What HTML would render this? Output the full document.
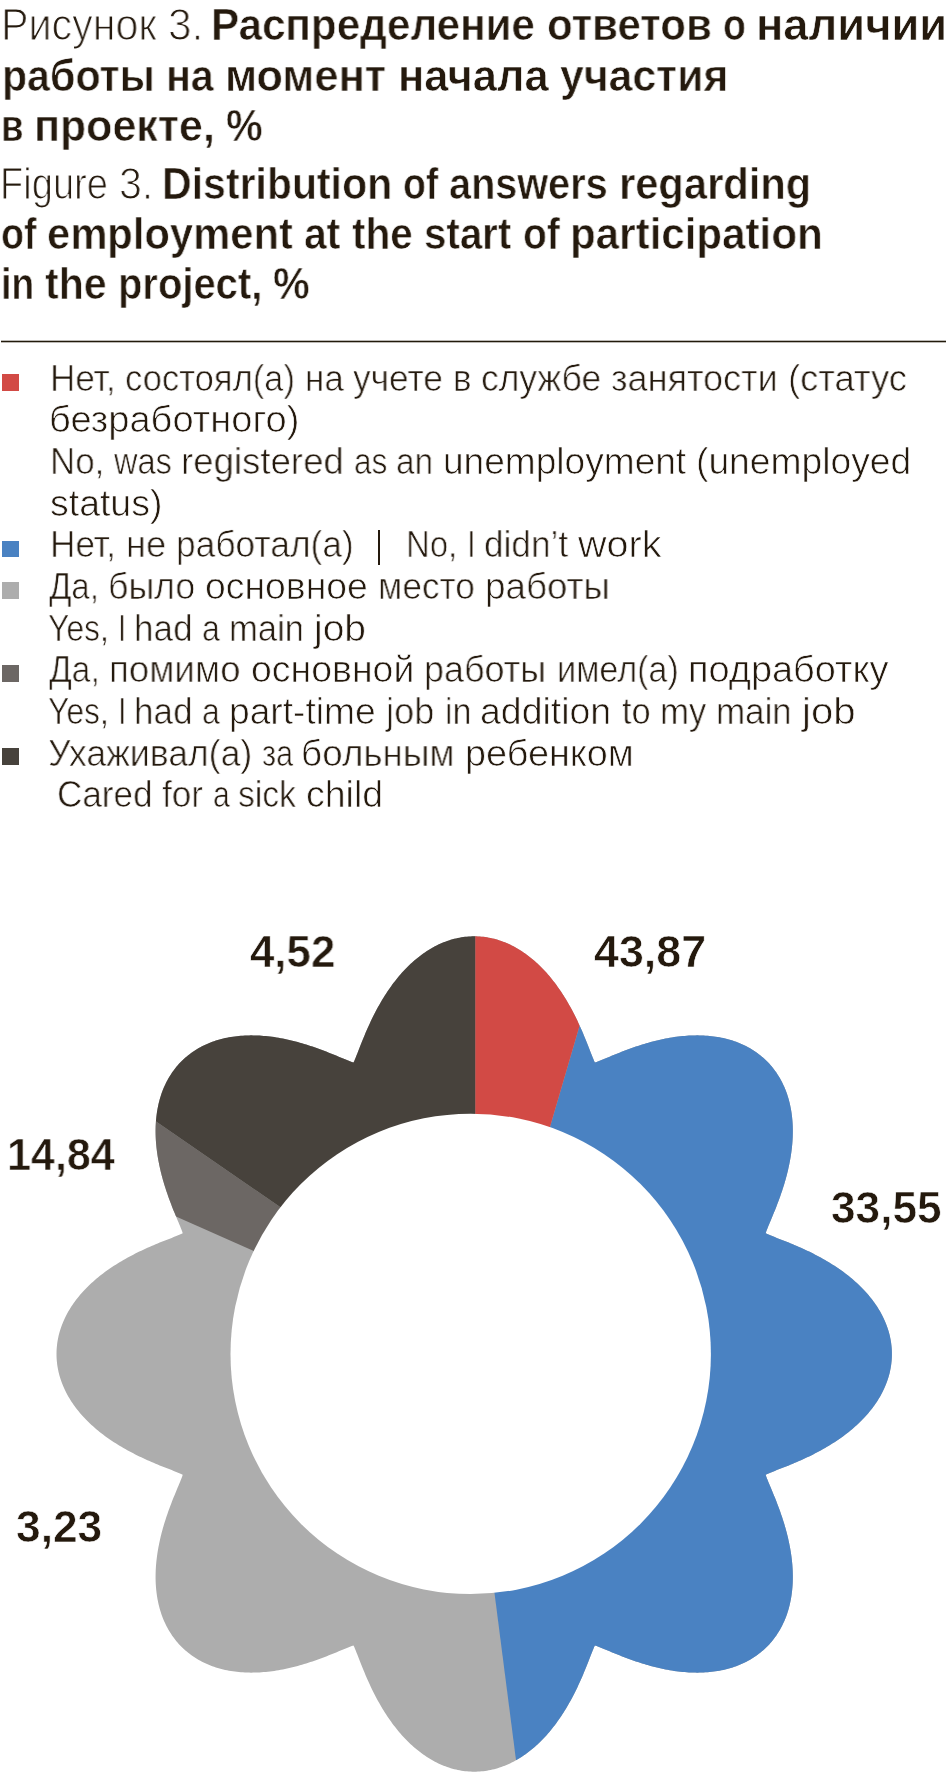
<!DOCTYPE html>
<html><head><meta charset="utf-8"><style>
html,body{margin:0;padding:0;background:#fff;}
body{width:946px;height:1778px;position:relative;overflow:hidden;font-family:"Liberation Sans",sans-serif;}
.t{position:absolute;white-space:nowrap;transform-origin:0 0;color:#24190d;will-change:transform;}
.rule{position:absolute;left:1px;top:340.7px;width:945px;height:1.5px;background:#221a0b;}
</style></head><body>
<svg width="946" height="1778" viewBox="0 0 946 1778" style="position:absolute;left:0;top:0">
<defs><clipPath id="fl"><path d="M474.20,936.30 L476.02,936.32 L477.84,936.38 L479.67,936.49 L481.49,936.64 L483.30,936.83 L485.12,937.06 L486.93,937.33 L488.74,937.65 L490.54,938.00 L492.35,938.40 L494.14,938.84 L495.93,939.32 L497.72,939.84 L499.50,940.41 L501.27,941.01 L503.03,941.65 L504.79,942.34 L506.54,943.06 L508.28,943.82 L510.02,944.62 L511.74,945.46 L513.45,946.34 L515.16,947.26 L516.85,948.21 L518.53,949.20 L520.20,950.23 L521.86,951.29 L523.51,952.40 L525.15,953.53 L526.77,954.70 L528.38,955.91 L529.97,957.15 L531.56,958.42 L533.12,959.72 L534.68,961.06 L536.22,962.43 L537.74,963.83 L539.25,965.27 L540.75,966.73 L542.22,968.22 L543.69,969.74 L545.13,971.29 L546.56,972.87 L547.97,974.47 L549.37,976.10 L550.75,977.75 L552.11,979.43 L553.45,981.14 L554.78,982.87 L556.09,984.62 L557.38,986.39 L558.66,988.18 L559.91,989.99 L561.15,991.83 L562.37,993.68 L563.57,995.55 L564.76,997.44 L565.92,999.34 L567.07,1001.26 L568.20,1003.20 L569.31,1005.15 L570.40,1007.11 L571.48,1009.08 L572.54,1011.07 L573.57,1013.06 L574.60,1015.06 L575.60,1017.08 L576.59,1019.10 L577.56,1021.12 L578.51,1023.16 L579.45,1025.19 L580.37,1027.23 L581.28,1029.28 L582.17,1031.32 L583.04,1033.36 L583.90,1035.40 L584.75,1037.44 L585.58,1039.48 L586.40,1041.51 L587.20,1043.53 L588.00,1045.54 L588.78,1047.54 L589.55,1049.53 L590.32,1051.50 L591.08,1053.45 L591.83,1055.37 L592.59,1057.26 L593.34,1059.11 L594.11,1060.89 L594.94,1062.52 L596.65,1061.99 L598.44,1061.32 L600.26,1060.59 L602.10,1059.84 L603.98,1059.06 L605.87,1058.27 L607.78,1057.47 L609.70,1056.67 L611.65,1055.86 L613.60,1055.05 L615.58,1054.24 L617.56,1053.44 L619.56,1052.64 L621.57,1051.85 L623.59,1051.06 L625.63,1050.29 L627.67,1049.52 L629.72,1048.77 L631.78,1048.03 L633.85,1047.31 L635.93,1046.59 L638.02,1045.90 L640.12,1045.22 L642.22,1044.55 L644.32,1043.91 L646.43,1043.28 L648.55,1042.67 L650.67,1042.09 L652.80,1041.52 L654.93,1040.97 L657.06,1040.45 L659.19,1039.95 L661.33,1039.47 L663.46,1039.02 L665.60,1038.59 L667.73,1038.18 L669.87,1037.80 L672.00,1037.45 L674.14,1037.12 L676.27,1036.82 L678.39,1036.55 L680.52,1036.30 L682.64,1036.08 L684.75,1035.89 L686.86,1035.73 L688.96,1035.60 L691.06,1035.50 L693.15,1035.43 L695.23,1035.39 L697.30,1035.37 L699.37,1035.39 L701.42,1035.44 L703.47,1035.52 L705.50,1035.64 L707.53,1035.78 L709.54,1035.96 L711.54,1036.17 L713.52,1036.41 L715.49,1036.68 L717.45,1036.99 L719.40,1037.33 L721.32,1037.70 L723.23,1038.10 L725.13,1038.54 L727.01,1039.01 L728.87,1039.51 L730.71,1040.04 L732.54,1040.61 L734.34,1041.21 L736.13,1041.85 L737.89,1042.51 L739.64,1043.21 L741.36,1043.95 L743.06,1044.71 L744.74,1045.51 L746.40,1046.34 L748.03,1047.20 L749.64,1048.10 L751.22,1049.02 L752.78,1049.98 L754.32,1050.97 L755.83,1051.99 L757.31,1053.04 L758.77,1054.13 L760.20,1055.24 L761.61,1056.38 L762.98,1057.56 L764.33,1058.76 L765.65,1059.99 L766.94,1061.26 L768.21,1062.55 L769.44,1063.87 L770.64,1065.22 L771.82,1066.59 L772.96,1068.00 L774.07,1069.43 L775.16,1070.89 L776.21,1072.37 L777.23,1073.88 L778.22,1075.42 L779.18,1076.98 L780.10,1078.56 L781.00,1080.17 L781.86,1081.80 L782.69,1083.46 L783.49,1085.14 L784.25,1086.84 L784.99,1088.56 L785.69,1090.31 L786.35,1092.07 L786.99,1093.86 L787.59,1095.66 L788.16,1097.49 L788.69,1099.33 L789.19,1101.19 L789.66,1103.07 L790.10,1104.97 L790.50,1106.88 L790.87,1108.80 L791.21,1110.75 L791.52,1112.71 L791.79,1114.68 L792.03,1116.66 L792.24,1118.66 L792.42,1120.67 L792.56,1122.70 L792.68,1124.73 L792.76,1126.78 L792.81,1128.83 L792.83,1130.90 L792.81,1132.97 L792.77,1135.05 L792.70,1137.14 L792.60,1139.24 L792.47,1141.34 L792.31,1143.45 L792.12,1145.56 L791.90,1147.68 L791.65,1149.81 L791.38,1151.93 L791.08,1154.06 L790.75,1156.20 L790.40,1158.33 L790.02,1160.47 L789.61,1162.60 L789.18,1164.74 L788.73,1166.87 L788.25,1169.01 L787.75,1171.14 L787.23,1173.27 L786.68,1175.40 L786.11,1177.53 L785.53,1179.65 L784.92,1181.77 L784.29,1183.88 L783.65,1185.98 L782.98,1188.08 L782.30,1190.18 L781.61,1192.27 L780.89,1194.35 L780.17,1196.42 L779.43,1198.48 L778.68,1200.53 L777.91,1202.57 L777.14,1204.61 L776.35,1206.63 L775.56,1208.64 L774.76,1210.64 L773.96,1212.62 L773.15,1214.60 L772.34,1216.55 L771.53,1218.50 L770.73,1220.42 L769.93,1222.33 L769.14,1224.22 L768.36,1226.10 L767.61,1227.94 L766.88,1229.76 L766.21,1231.55 L765.68,1233.26 L767.31,1234.09 L769.09,1234.86 L770.94,1235.61 L772.83,1236.37 L774.75,1237.12 L776.70,1237.88 L778.67,1238.65 L780.66,1239.42 L782.66,1240.20 L784.67,1241.00 L786.69,1241.80 L788.72,1242.62 L790.76,1243.45 L792.80,1244.30 L794.84,1245.16 L796.88,1246.03 L798.92,1246.92 L800.97,1247.83 L803.01,1248.75 L805.04,1249.69 L807.08,1250.64 L809.10,1251.61 L811.12,1252.60 L813.14,1253.60 L815.14,1254.63 L817.13,1255.66 L819.12,1256.72 L821.09,1257.80 L823.05,1258.89 L825.00,1260.00 L826.94,1261.13 L828.86,1262.28 L830.76,1263.44 L832.65,1264.63 L834.52,1265.83 L836.37,1267.05 L838.21,1268.29 L840.02,1269.54 L841.81,1270.82 L843.58,1272.11 L845.33,1273.42 L847.06,1274.75 L848.77,1276.09 L850.45,1277.45 L852.10,1278.83 L853.73,1280.23 L855.33,1281.64 L856.91,1283.07 L858.46,1284.51 L859.98,1285.98 L861.47,1287.45 L862.93,1288.95 L864.37,1290.46 L865.77,1291.98 L867.14,1293.52 L868.48,1295.08 L869.78,1296.64 L871.05,1298.23 L872.29,1299.82 L873.50,1301.43 L874.67,1303.05 L875.80,1304.69 L876.91,1306.34 L877.97,1308.00 L879.00,1309.67 L879.99,1311.35 L880.94,1313.04 L881.86,1314.75 L882.74,1316.46 L883.58,1318.18 L884.38,1319.92 L885.14,1321.66 L885.86,1323.41 L886.55,1325.17 L887.19,1326.93 L887.79,1328.70 L888.36,1330.48 L888.88,1332.27 L889.36,1334.06 L889.80,1335.85 L890.20,1337.66 L890.55,1339.46 L890.87,1341.27 L891.14,1343.08 L891.37,1344.90 L891.56,1346.71 L891.71,1348.53 L891.82,1350.36 L891.88,1352.18 L891.90,1354.00 L891.88,1355.82 L891.82,1357.64 L891.71,1359.47 L891.56,1361.29 L891.37,1363.10 L891.14,1364.92 L890.87,1366.73 L890.55,1368.54 L890.20,1370.34 L889.80,1372.15 L889.36,1373.94 L888.88,1375.73 L888.36,1377.52 L887.79,1379.30 L887.19,1381.07 L886.55,1382.83 L885.86,1384.59 L885.14,1386.34 L884.38,1388.08 L883.58,1389.82 L882.74,1391.54 L881.86,1393.25 L880.94,1394.96 L879.99,1396.65 L879.00,1398.33 L877.97,1400.00 L876.91,1401.66 L875.80,1403.31 L874.67,1404.95 L873.50,1406.57 L872.29,1408.18 L871.05,1409.77 L869.78,1411.36 L868.48,1412.92 L867.14,1414.48 L865.77,1416.02 L864.37,1417.54 L862.93,1419.05 L861.47,1420.55 L859.98,1422.02 L858.46,1423.49 L856.91,1424.93 L855.33,1426.36 L853.73,1427.77 L852.10,1429.17 L850.45,1430.55 L848.77,1431.91 L847.06,1433.25 L845.33,1434.58 L843.58,1435.89 L841.81,1437.18 L840.02,1438.46 L838.21,1439.71 L836.37,1440.95 L834.52,1442.17 L832.65,1443.37 L830.76,1444.56 L828.86,1445.72 L826.94,1446.87 L825.00,1448.00 L823.05,1449.11 L821.09,1450.20 L819.12,1451.28 L817.13,1452.34 L815.14,1453.37 L813.14,1454.40 L811.12,1455.40 L809.10,1456.39 L807.08,1457.36 L805.04,1458.31 L803.01,1459.25 L800.97,1460.17 L798.92,1461.08 L796.88,1461.97 L794.84,1462.84 L792.80,1463.70 L790.76,1464.55 L788.72,1465.38 L786.69,1466.20 L784.67,1467.00 L782.66,1467.80 L780.66,1468.58 L778.67,1469.35 L776.70,1470.12 L774.75,1470.88 L772.83,1471.63 L770.94,1472.39 L769.09,1473.14 L767.31,1473.91 L765.68,1474.74 L766.21,1476.45 L766.88,1478.24 L767.61,1480.06 L768.36,1481.90 L769.14,1483.78 L769.93,1485.67 L770.73,1487.58 L771.53,1489.50 L772.34,1491.45 L773.15,1493.40 L773.96,1495.38 L774.76,1497.36 L775.56,1499.36 L776.35,1501.37 L777.14,1503.39 L777.91,1505.43 L778.68,1507.47 L779.43,1509.52 L780.17,1511.58 L780.89,1513.65 L781.61,1515.73 L782.30,1517.82 L782.98,1519.92 L783.65,1522.02 L784.29,1524.12 L784.92,1526.23 L785.53,1528.35 L786.11,1530.47 L786.68,1532.60 L787.23,1534.73 L787.75,1536.86 L788.25,1538.99 L788.73,1541.13 L789.18,1543.26 L789.61,1545.40 L790.02,1547.53 L790.40,1549.67 L790.75,1551.80 L791.08,1553.94 L791.38,1556.07 L791.65,1558.19 L791.90,1560.32 L792.12,1562.44 L792.31,1564.55 L792.47,1566.66 L792.60,1568.76 L792.70,1570.86 L792.77,1572.95 L792.81,1575.03 L792.83,1577.10 L792.81,1579.17 L792.76,1581.22 L792.68,1583.27 L792.56,1585.30 L792.42,1587.33 L792.24,1589.34 L792.03,1591.34 L791.79,1593.32 L791.52,1595.29 L791.21,1597.25 L790.87,1599.20 L790.50,1601.12 L790.10,1603.03 L789.66,1604.93 L789.19,1606.81 L788.69,1608.67 L788.16,1610.51 L787.59,1612.34 L786.99,1614.14 L786.35,1615.93 L785.69,1617.69 L784.99,1619.44 L784.25,1621.16 L783.49,1622.86 L782.69,1624.54 L781.86,1626.20 L781.00,1627.83 L780.10,1629.44 L779.18,1631.02 L778.22,1632.58 L777.23,1634.12 L776.21,1635.63 L775.16,1637.11 L774.07,1638.57 L772.96,1640.00 L771.82,1641.41 L770.64,1642.78 L769.44,1644.13 L768.21,1645.45 L766.94,1646.74 L765.65,1648.01 L764.33,1649.24 L762.98,1650.44 L761.61,1651.62 L760.20,1652.76 L758.77,1653.87 L757.31,1654.96 L755.83,1656.01 L754.32,1657.03 L752.78,1658.02 L751.22,1658.98 L749.64,1659.90 L748.03,1660.80 L746.40,1661.66 L744.74,1662.49 L743.06,1663.29 L741.36,1664.05 L739.64,1664.79 L737.89,1665.49 L736.13,1666.15 L734.34,1666.79 L732.54,1667.39 L730.71,1667.96 L728.87,1668.49 L727.01,1668.99 L725.13,1669.46 L723.23,1669.90 L721.32,1670.30 L719.40,1670.67 L717.45,1671.01 L715.49,1671.32 L713.52,1671.59 L711.54,1671.83 L709.54,1672.04 L707.53,1672.22 L705.50,1672.36 L703.47,1672.48 L701.42,1672.56 L699.37,1672.61 L697.30,1672.63 L695.23,1672.61 L693.15,1672.57 L691.06,1672.50 L688.96,1672.40 L686.86,1672.27 L684.75,1672.11 L682.64,1671.92 L680.52,1671.70 L678.39,1671.45 L676.27,1671.18 L674.14,1670.88 L672.00,1670.55 L669.87,1670.20 L667.73,1669.82 L665.60,1669.41 L663.46,1668.98 L661.33,1668.53 L659.19,1668.05 L657.06,1667.55 L654.93,1667.03 L652.80,1666.48 L650.67,1665.91 L648.55,1665.33 L646.43,1664.72 L644.32,1664.09 L642.22,1663.45 L640.12,1662.78 L638.02,1662.10 L635.93,1661.41 L633.85,1660.69 L631.78,1659.97 L629.72,1659.23 L627.67,1658.48 L625.63,1657.71 L623.59,1656.94 L621.57,1656.15 L619.56,1655.36 L617.56,1654.56 L615.58,1653.76 L613.60,1652.95 L611.65,1652.14 L609.70,1651.33 L607.78,1650.53 L605.87,1649.73 L603.98,1648.94 L602.10,1648.16 L600.26,1647.41 L598.44,1646.68 L596.65,1646.01 L594.94,1645.48 L594.11,1647.11 L593.34,1648.89 L592.59,1650.74 L591.83,1652.63 L591.08,1654.55 L590.32,1656.50 L589.55,1658.47 L588.78,1660.46 L588.00,1662.46 L587.20,1664.47 L586.40,1666.49 L585.58,1668.52 L584.75,1670.56 L583.90,1672.60 L583.04,1674.64 L582.17,1676.68 L581.28,1678.72 L580.37,1680.77 L579.45,1682.81 L578.51,1684.84 L577.56,1686.88 L576.59,1688.90 L575.60,1690.92 L574.60,1692.94 L573.57,1694.94 L572.54,1696.93 L571.48,1698.92 L570.40,1700.89 L569.31,1702.85 L568.20,1704.80 L567.07,1706.74 L565.92,1708.66 L564.76,1710.56 L563.57,1712.45 L562.37,1714.32 L561.15,1716.17 L559.91,1718.01 L558.66,1719.82 L557.38,1721.61 L556.09,1723.38 L554.78,1725.13 L553.45,1726.86 L552.11,1728.57 L550.75,1730.25 L549.37,1731.90 L547.97,1733.53 L546.56,1735.13 L545.13,1736.71 L543.69,1738.26 L542.22,1739.78 L540.75,1741.27 L539.25,1742.73 L537.74,1744.17 L536.22,1745.57 L534.68,1746.94 L533.12,1748.28 L531.56,1749.58 L529.97,1750.85 L528.38,1752.09 L526.77,1753.30 L525.15,1754.47 L523.51,1755.60 L521.86,1756.71 L520.20,1757.77 L518.53,1758.80 L516.85,1759.79 L515.16,1760.74 L513.45,1761.66 L511.74,1762.54 L510.02,1763.38 L508.28,1764.18 L506.54,1764.94 L504.79,1765.66 L503.03,1766.35 L501.27,1766.99 L499.50,1767.59 L497.72,1768.16 L495.93,1768.68 L494.14,1769.16 L492.35,1769.60 L490.54,1770.00 L488.74,1770.35 L486.93,1770.67 L485.12,1770.94 L483.30,1771.17 L481.49,1771.36 L479.67,1771.51 L477.84,1771.62 L476.02,1771.68 L474.20,1771.70 L472.38,1771.68 L470.56,1771.62 L468.73,1771.51 L466.91,1771.36 L465.10,1771.17 L463.28,1770.94 L461.47,1770.67 L459.66,1770.35 L457.86,1770.00 L456.05,1769.60 L454.26,1769.16 L452.47,1768.68 L450.68,1768.16 L448.90,1767.59 L447.13,1766.99 L445.37,1766.35 L443.61,1765.66 L441.86,1764.94 L440.12,1764.18 L438.38,1763.38 L436.66,1762.54 L434.95,1761.66 L433.24,1760.74 L431.55,1759.79 L429.87,1758.80 L428.20,1757.77 L426.54,1756.71 L424.89,1755.60 L423.25,1754.47 L421.63,1753.30 L420.02,1752.09 L418.43,1750.85 L416.84,1749.58 L415.28,1748.28 L413.72,1746.94 L412.18,1745.57 L410.66,1744.17 L409.15,1742.73 L407.65,1741.27 L406.18,1739.78 L404.71,1738.26 L403.27,1736.71 L401.84,1735.13 L400.43,1733.53 L399.03,1731.90 L397.65,1730.25 L396.29,1728.57 L394.95,1726.86 L393.62,1725.13 L392.31,1723.38 L391.02,1721.61 L389.74,1719.82 L388.49,1718.01 L387.25,1716.17 L386.03,1714.32 L384.83,1712.45 L383.64,1710.56 L382.48,1708.66 L381.33,1706.74 L380.20,1704.80 L379.09,1702.85 L378.00,1700.89 L376.92,1698.92 L375.86,1696.93 L374.83,1694.94 L373.80,1692.94 L372.80,1690.92 L371.81,1688.90 L370.84,1686.88 L369.89,1684.84 L368.95,1682.81 L368.03,1680.77 L367.12,1678.72 L366.23,1676.68 L365.36,1674.64 L364.50,1672.60 L363.65,1670.56 L362.82,1668.52 L362.00,1666.49 L361.20,1664.47 L360.40,1662.46 L359.62,1660.46 L358.85,1658.47 L358.08,1656.50 L357.32,1654.55 L356.57,1652.63 L355.81,1650.74 L355.06,1648.89 L354.29,1647.11 L353.46,1645.48 L351.75,1646.01 L349.96,1646.68 L348.14,1647.41 L346.30,1648.16 L344.42,1648.94 L342.53,1649.73 L340.62,1650.53 L338.70,1651.33 L336.75,1652.14 L334.80,1652.95 L332.82,1653.76 L330.84,1654.56 L328.84,1655.36 L326.83,1656.15 L324.81,1656.94 L322.77,1657.71 L320.73,1658.48 L318.68,1659.23 L316.62,1659.97 L314.55,1660.69 L312.47,1661.41 L310.38,1662.10 L308.28,1662.78 L306.18,1663.45 L304.08,1664.09 L301.97,1664.72 L299.85,1665.33 L297.73,1665.91 L295.60,1666.48 L293.47,1667.03 L291.34,1667.55 L289.21,1668.05 L287.07,1668.53 L284.94,1668.98 L282.80,1669.41 L280.67,1669.82 L278.53,1670.20 L276.40,1670.55 L274.26,1670.88 L272.13,1671.18 L270.01,1671.45 L267.88,1671.70 L265.76,1671.92 L263.65,1672.11 L261.54,1672.27 L259.44,1672.40 L257.34,1672.50 L255.25,1672.57 L253.17,1672.61 L251.10,1672.63 L249.03,1672.61 L246.98,1672.56 L244.93,1672.48 L242.90,1672.36 L240.87,1672.22 L238.86,1672.04 L236.86,1671.83 L234.88,1671.59 L232.91,1671.32 L230.95,1671.01 L229.00,1670.67 L227.08,1670.30 L225.17,1669.90 L223.27,1669.46 L221.39,1668.99 L219.53,1668.49 L217.69,1667.96 L215.86,1667.39 L214.06,1666.79 L212.27,1666.15 L210.51,1665.49 L208.76,1664.79 L207.04,1664.05 L205.34,1663.29 L203.66,1662.49 L202.00,1661.66 L200.37,1660.80 L198.76,1659.90 L197.18,1658.98 L195.62,1658.02 L194.08,1657.03 L192.57,1656.01 L191.09,1654.96 L189.63,1653.87 L188.20,1652.76 L186.79,1651.62 L185.42,1650.44 L184.07,1649.24 L182.75,1648.01 L181.46,1646.74 L180.19,1645.45 L178.96,1644.13 L177.76,1642.78 L176.58,1641.41 L175.44,1640.00 L174.33,1638.57 L173.24,1637.11 L172.19,1635.63 L171.17,1634.12 L170.18,1632.58 L169.22,1631.02 L168.30,1629.44 L167.40,1627.83 L166.54,1626.20 L165.71,1624.54 L164.91,1622.86 L164.15,1621.16 L163.41,1619.44 L162.71,1617.69 L162.05,1615.93 L161.41,1614.14 L160.81,1612.34 L160.24,1610.51 L159.71,1608.67 L159.21,1606.81 L158.74,1604.93 L158.30,1603.03 L157.90,1601.12 L157.53,1599.20 L157.19,1597.25 L156.88,1595.29 L156.61,1593.32 L156.37,1591.34 L156.16,1589.34 L155.98,1587.33 L155.84,1585.30 L155.72,1583.27 L155.64,1581.22 L155.59,1579.17 L155.57,1577.10 L155.59,1575.03 L155.63,1572.95 L155.70,1570.86 L155.80,1568.76 L155.93,1566.66 L156.09,1564.55 L156.28,1562.44 L156.50,1560.32 L156.75,1558.19 L157.02,1556.07 L157.32,1553.94 L157.65,1551.80 L158.00,1549.67 L158.38,1547.53 L158.79,1545.40 L159.22,1543.26 L159.67,1541.13 L160.15,1538.99 L160.65,1536.86 L161.17,1534.73 L161.72,1532.60 L162.29,1530.47 L162.87,1528.35 L163.48,1526.23 L164.11,1524.12 L164.75,1522.02 L165.42,1519.92 L166.10,1517.82 L166.79,1515.73 L167.51,1513.65 L168.23,1511.58 L168.97,1509.52 L169.72,1507.47 L170.49,1505.43 L171.26,1503.39 L172.05,1501.37 L172.84,1499.36 L173.64,1497.36 L174.44,1495.38 L175.25,1493.40 L176.06,1491.45 L176.87,1489.50 L177.67,1487.58 L178.47,1485.67 L179.26,1483.78 L180.04,1481.90 L180.79,1480.06 L181.52,1478.24 L182.19,1476.45 L182.72,1474.74 L181.09,1473.91 L179.31,1473.14 L177.46,1472.39 L175.57,1471.63 L173.65,1470.88 L171.70,1470.12 L169.73,1469.35 L167.74,1468.58 L165.74,1467.80 L163.73,1467.00 L161.71,1466.20 L159.68,1465.38 L157.64,1464.55 L155.60,1463.70 L153.56,1462.84 L151.52,1461.97 L149.48,1461.08 L147.43,1460.17 L145.39,1459.25 L143.36,1458.31 L141.32,1457.36 L139.30,1456.39 L137.28,1455.40 L135.26,1454.40 L133.26,1453.37 L131.27,1452.34 L129.28,1451.28 L127.31,1450.20 L125.35,1449.11 L123.40,1448.00 L121.46,1446.87 L119.54,1445.72 L117.64,1444.56 L115.75,1443.37 L113.88,1442.17 L112.03,1440.95 L110.19,1439.71 L108.38,1438.46 L106.59,1437.18 L104.82,1435.89 L103.07,1434.58 L101.34,1433.25 L99.63,1431.91 L97.95,1430.55 L96.30,1429.17 L94.67,1427.77 L93.07,1426.36 L91.49,1424.93 L89.94,1423.49 L88.42,1422.02 L86.93,1420.55 L85.47,1419.05 L84.03,1417.54 L82.63,1416.02 L81.26,1414.48 L79.92,1412.92 L78.62,1411.36 L77.35,1409.77 L76.11,1408.18 L74.90,1406.57 L73.73,1404.95 L72.60,1403.31 L71.49,1401.66 L70.43,1400.00 L69.40,1398.33 L68.41,1396.65 L67.46,1394.96 L66.54,1393.25 L65.66,1391.54 L64.82,1389.82 L64.02,1388.08 L63.26,1386.34 L62.54,1384.59 L61.85,1382.83 L61.21,1381.07 L60.61,1379.30 L60.04,1377.52 L59.52,1375.73 L59.04,1373.94 L58.60,1372.15 L58.20,1370.34 L57.85,1368.54 L57.53,1366.73 L57.26,1364.92 L57.03,1363.10 L56.84,1361.29 L56.69,1359.47 L56.58,1357.64 L56.52,1355.82 L56.50,1354.00 L56.52,1352.18 L56.58,1350.36 L56.69,1348.53 L56.84,1346.71 L57.03,1344.90 L57.26,1343.08 L57.53,1341.27 L57.85,1339.46 L58.20,1337.66 L58.60,1335.85 L59.04,1334.06 L59.52,1332.27 L60.04,1330.48 L60.61,1328.70 L61.21,1326.93 L61.85,1325.17 L62.54,1323.41 L63.26,1321.66 L64.02,1319.92 L64.82,1318.18 L65.66,1316.46 L66.54,1314.75 L67.46,1313.04 L68.41,1311.35 L69.40,1309.67 L70.43,1308.00 L71.49,1306.34 L72.60,1304.69 L73.73,1303.05 L74.90,1301.43 L76.11,1299.82 L77.35,1298.23 L78.62,1296.64 L79.92,1295.08 L81.26,1293.52 L82.63,1291.98 L84.03,1290.46 L85.47,1288.95 L86.93,1287.45 L88.42,1285.98 L89.94,1284.51 L91.49,1283.07 L93.07,1281.64 L94.67,1280.23 L96.30,1278.83 L97.95,1277.45 L99.63,1276.09 L101.34,1274.75 L103.07,1273.42 L104.82,1272.11 L106.59,1270.82 L108.38,1269.54 L110.19,1268.29 L112.03,1267.05 L113.88,1265.83 L115.75,1264.63 L117.64,1263.44 L119.54,1262.28 L121.46,1261.13 L123.40,1260.00 L125.35,1258.89 L127.31,1257.80 L129.28,1256.72 L131.27,1255.66 L133.26,1254.63 L135.26,1253.60 L137.28,1252.60 L139.30,1251.61 L141.32,1250.64 L143.36,1249.69 L145.39,1248.75 L147.43,1247.83 L149.48,1246.92 L151.52,1246.03 L153.56,1245.16 L155.60,1244.30 L157.64,1243.45 L159.68,1242.62 L161.71,1241.80 L163.73,1241.00 L165.74,1240.20 L167.74,1239.42 L169.73,1238.65 L171.70,1237.88 L173.65,1237.12 L175.57,1236.37 L177.46,1235.61 L179.31,1234.86 L181.09,1234.09 L182.72,1233.26 L182.19,1231.55 L181.52,1229.76 L180.79,1227.94 L180.04,1226.10 L179.26,1224.22 L178.47,1222.33 L177.67,1220.42 L176.87,1218.50 L176.06,1216.55 L175.25,1214.60 L174.44,1212.62 L173.64,1210.64 L172.84,1208.64 L172.05,1206.63 L171.26,1204.61 L170.49,1202.57 L169.72,1200.53 L168.97,1198.48 L168.23,1196.42 L167.51,1194.35 L166.79,1192.27 L166.10,1190.18 L165.42,1188.08 L164.75,1185.98 L164.11,1183.88 L163.48,1181.77 L162.87,1179.65 L162.29,1177.53 L161.72,1175.40 L161.17,1173.27 L160.65,1171.14 L160.15,1169.01 L159.67,1166.87 L159.22,1164.74 L158.79,1162.60 L158.38,1160.47 L158.00,1158.33 L157.65,1156.20 L157.32,1154.06 L157.02,1151.93 L156.75,1149.81 L156.50,1147.68 L156.28,1145.56 L156.09,1143.45 L155.93,1141.34 L155.80,1139.24 L155.70,1137.14 L155.63,1135.05 L155.59,1132.97 L155.57,1130.90 L155.59,1128.83 L155.64,1126.78 L155.72,1124.73 L155.84,1122.70 L155.98,1120.67 L156.16,1118.66 L156.37,1116.66 L156.61,1114.68 L156.88,1112.71 L157.19,1110.75 L157.53,1108.80 L157.90,1106.88 L158.30,1104.97 L158.74,1103.07 L159.21,1101.19 L159.71,1099.33 L160.24,1097.49 L160.81,1095.66 L161.41,1093.86 L162.05,1092.07 L162.71,1090.31 L163.41,1088.56 L164.15,1086.84 L164.91,1085.14 L165.71,1083.46 L166.54,1081.80 L167.40,1080.17 L168.30,1078.56 L169.22,1076.98 L170.18,1075.42 L171.17,1073.88 L172.19,1072.37 L173.24,1070.89 L174.33,1069.43 L175.44,1068.00 L176.58,1066.59 L177.76,1065.22 L178.96,1063.87 L180.19,1062.55 L181.46,1061.26 L182.75,1059.99 L184.07,1058.76 L185.42,1057.56 L186.79,1056.38 L188.20,1055.24 L189.63,1054.13 L191.09,1053.04 L192.57,1051.99 L194.08,1050.97 L195.62,1049.98 L197.18,1049.02 L198.76,1048.10 L200.37,1047.20 L202.00,1046.34 L203.66,1045.51 L205.34,1044.71 L207.04,1043.95 L208.76,1043.21 L210.51,1042.51 L212.27,1041.85 L214.06,1041.21 L215.86,1040.61 L217.69,1040.04 L219.53,1039.51 L221.39,1039.01 L223.27,1038.54 L225.17,1038.10 L227.08,1037.70 L229.00,1037.33 L230.95,1036.99 L232.91,1036.68 L234.88,1036.41 L236.86,1036.17 L238.86,1035.96 L240.87,1035.78 L242.90,1035.64 L244.93,1035.52 L246.98,1035.44 L249.03,1035.39 L251.10,1035.37 L253.17,1035.39 L255.25,1035.43 L257.34,1035.50 L259.44,1035.60 L261.54,1035.73 L263.65,1035.89 L265.76,1036.08 L267.88,1036.30 L270.01,1036.55 L272.13,1036.82 L274.26,1037.12 L276.40,1037.45 L278.53,1037.80 L280.67,1038.18 L282.80,1038.59 L284.94,1039.02 L287.07,1039.47 L289.21,1039.95 L291.34,1040.45 L293.47,1040.97 L295.60,1041.52 L297.73,1042.09 L299.85,1042.67 L301.97,1043.28 L304.08,1043.91 L306.18,1044.55 L308.28,1045.22 L310.38,1045.90 L312.47,1046.59 L314.55,1047.31 L316.62,1048.03 L318.68,1048.77 L320.73,1049.52 L322.77,1050.29 L324.81,1051.06 L326.83,1051.85 L328.84,1052.64 L330.84,1053.44 L332.82,1054.24 L334.80,1055.05 L336.75,1055.86 L338.70,1056.67 L340.62,1057.47 L342.53,1058.27 L344.42,1059.06 L346.30,1059.84 L348.14,1060.59 L349.96,1061.32 L351.75,1061.99 L353.46,1062.52 L354.29,1060.89 L355.06,1059.11 L355.81,1057.26 L356.57,1055.37 L357.32,1053.45 L358.08,1051.50 L358.85,1049.53 L359.62,1047.54 L360.40,1045.54 L361.20,1043.53 L362.00,1041.51 L362.82,1039.48 L363.65,1037.44 L364.50,1035.40 L365.36,1033.36 L366.23,1031.32 L367.12,1029.28 L368.03,1027.23 L368.95,1025.19 L369.89,1023.16 L370.84,1021.12 L371.81,1019.10 L372.80,1017.08 L373.80,1015.06 L374.83,1013.06 L375.86,1011.07 L376.92,1009.08 L378.00,1007.11 L379.09,1005.15 L380.20,1003.20 L381.33,1001.26 L382.48,999.34 L383.64,997.44 L384.83,995.55 L386.03,993.68 L387.25,991.83 L388.49,989.99 L389.74,988.18 L391.02,986.39 L392.31,984.62 L393.62,982.87 L394.95,981.14 L396.29,979.43 L397.65,977.75 L399.03,976.10 L400.43,974.47 L401.84,972.87 L403.27,971.29 L404.71,969.74 L406.18,968.22 L407.65,966.73 L409.15,965.27 L410.66,963.83 L412.18,962.43 L413.72,961.06 L415.28,959.72 L416.84,958.42 L418.43,957.15 L420.02,955.91 L421.63,954.70 L423.25,953.53 L424.89,952.40 L426.54,951.29 L428.20,950.23 L429.87,949.20 L431.55,948.21 L433.24,947.26 L434.95,946.34 L436.66,945.46 L438.38,944.62 L440.12,943.82 L441.86,943.06 L443.61,942.34 L445.37,941.65 L447.13,941.01 L448.90,940.41 L450.68,939.84 L452.47,939.32 L454.26,938.84 L456.05,938.40 L457.86,938.00 L459.66,937.65 L461.47,937.33 L463.28,937.06 L465.10,936.83 L466.91,936.64 L468.73,936.49 L470.56,936.38 L472.38,936.32Z"/></clipPath></defs>
<g clip-path="url(#fl)">
<rect x="0" y="880" width="946" height="898" fill="#adadad"/>
<path d="M622.16,880.00 L469.82,1401.24 L521.14,1800.00 L960.00,1800.00 L960.00,880.00 Z" fill="#4a82c2"/>
<path d="M475.20,880.00 L475.20,1382.85 L622.16,880.00 Z" fill="#d24a45"/>
<path d="M506.80,1363.45 L-20.00,999.93 L-20.00,1129.47 Z" fill="#6c6764"/>
<path d="M475.20,880.00 L475.20,1341.64 L-20.00,999.93 L-20.00,880.00 Z" fill="#47423c"/>
</g>
<rect x="1" y="340.7" width="945" height="1.6" fill="#221a0b"/>
<circle cx="470.7" cy="1353.9" r="240.2" fill="#fff"/>
</svg>
<div style="position:absolute;left:1.9px;top:374.30px;width:17.1px;height:16.9px;background:#d24a45"></div><div style="position:absolute;left:1.9px;top:540.50px;width:17.1px;height:16.9px;background:#4a82c2"></div><div style="position:absolute;left:1.9px;top:582.05px;width:17.1px;height:16.9px;background:#adadad"></div><div style="position:absolute;left:1.9px;top:665.15px;width:17.1px;height:16.9px;background:#6c6764"></div><div style="position:absolute;left:1.9px;top:748.25px;width:17.1px;height:16.9px;background:#47423c"></div>
<div class="t" style="left:1.24px;top:-0.58px;font-size:43.50px;line-height:52.20px;font-weight:400;transform:scaleX(0.9480);-webkit-text-stroke:1.20px #fff">Рисунок</div>
<div class="t" style="left:168.21px;top:-0.58px;font-size:43.50px;line-height:52.20px;font-weight:400;transform:scaleX(0.9723);-webkit-text-stroke:1.20px #fff">3.</div>
<div class="t" style="left:211.15px;top:-0.58px;font-size:43.50px;line-height:52.20px;font-weight:700;transform:scaleX(0.9692);-webkit-text-stroke:0.60px #fff">Распределение</div>
<div class="t" style="left:546.73px;top:-0.58px;font-size:43.50px;line-height:52.20px;font-weight:700;transform:scaleX(0.9659);-webkit-text-stroke:0.60px #fff">ответов</div>
<div class="t" style="left:723.33px;top:-0.58px;font-size:43.50px;line-height:52.20px;font-weight:700;transform:scaleX(0.8593);-webkit-text-stroke:0.60px #fff">о</div>
<div class="t" style="left:756.37px;top:-0.58px;font-size:43.50px;line-height:52.20px;font-weight:700;transform:scaleX(1.0414);-webkit-text-stroke:0.60px #fff">наличии</div>
<div class="t" style="left:1.70px;top:49.62px;font-size:43.50px;line-height:52.20px;font-weight:700;transform:scaleX(0.9453);-webkit-text-stroke:0.60px #fff">работы</div>
<div class="t" style="left:165.96px;top:49.62px;font-size:43.50px;line-height:52.20px;font-weight:700;transform:scaleX(0.9448);-webkit-text-stroke:0.60px #fff">на</div>
<div class="t" style="left:225.01px;top:49.62px;font-size:43.50px;line-height:52.20px;font-weight:700;transform:scaleX(0.9960);-webkit-text-stroke:0.60px #fff">момент</div>
<div class="t" style="left:397.90px;top:49.62px;font-size:43.50px;line-height:52.20px;font-weight:700;transform:scaleX(0.9991);-webkit-text-stroke:0.60px #fff">начала</div>
<div class="t" style="left:560.49px;top:49.62px;font-size:43.50px;line-height:52.20px;font-weight:700;transform:scaleX(0.9824);-webkit-text-stroke:0.60px #fff">участия</div>
<div class="t" style="left:1.06px;top:99.52px;font-size:43.50px;line-height:52.20px;font-weight:700;transform:scaleX(0.8435);-webkit-text-stroke:0.60px #fff">в</div>
<div class="t" style="left:33.72px;top:99.52px;font-size:43.50px;line-height:52.20px;font-weight:700;transform:scaleX(0.9875);-webkit-text-stroke:0.60px #fff">проекте,</div>
<div class="t" style="left:226.34px;top:99.52px;font-size:43.50px;line-height:52.20px;font-weight:700;transform:scaleX(0.9486);-webkit-text-stroke:0.60px #fff">%</div>
<div class="t" style="left:0.45px;top:158.42px;font-size:43.50px;line-height:52.20px;font-weight:400;transform:scaleX(0.8763);-webkit-text-stroke:1.20px #fff">Figure</div>
<div class="t" style="left:119.04px;top:158.42px;font-size:43.50px;line-height:52.20px;font-weight:400;transform:scaleX(0.9412);-webkit-text-stroke:1.20px #fff">3.</div>
<div class="t" style="left:161.70px;top:158.42px;font-size:43.50px;line-height:52.20px;font-weight:700;transform:scaleX(0.9431);-webkit-text-stroke:0.60px #fff">Distribution</div>
<div class="t" style="left:403.32px;top:158.42px;font-size:43.50px;line-height:52.20px;font-weight:700;transform:scaleX(0.8605);-webkit-text-stroke:0.60px #fff">of</div>
<div class="t" style="left:449.07px;top:158.42px;font-size:43.50px;line-height:52.20px;font-weight:700;transform:scaleX(0.9106);-webkit-text-stroke:0.60px #fff">answers</div>
<div class="t" style="left:618.57px;top:158.42px;font-size:43.50px;line-height:52.20px;font-weight:700;transform:scaleX(0.9580);-webkit-text-stroke:0.60px #fff">regarding</div>
<div class="t" style="left:1.13px;top:208.42px;font-size:43.50px;line-height:52.20px;font-weight:700;transform:scaleX(0.8641);-webkit-text-stroke:0.60px #fff">of</div>
<div class="t" style="left:47.03px;top:208.42px;font-size:43.50px;line-height:52.20px;font-weight:700;transform:scaleX(0.9594);-webkit-text-stroke:0.60px #fff">employment</div>
<div class="t" style="left:304.46px;top:208.42px;font-size:43.50px;line-height:52.20px;font-weight:700;transform:scaleX(0.9344);-webkit-text-stroke:0.60px #fff">at</div>
<div class="t" style="left:351.89px;top:208.42px;font-size:43.50px;line-height:52.20px;font-weight:700;transform:scaleX(0.9317);-webkit-text-stroke:0.60px #fff">the</div>
<div class="t" style="left:423.97px;top:208.42px;font-size:43.50px;line-height:52.20px;font-weight:700;transform:scaleX(0.9258);-webkit-text-stroke:0.60px #fff">start</div>
<div class="t" style="left:522.50px;top:208.42px;font-size:43.50px;line-height:52.20px;font-weight:700;transform:scaleX(0.8959);-webkit-text-stroke:0.60px #fff">of</div>
<div class="t" style="left:570.06px;top:208.42px;font-size:43.50px;line-height:52.20px;font-weight:700;transform:scaleX(0.9682);-webkit-text-stroke:0.60px #fff">participation</div>
<div class="t" style="left:1.00px;top:258.42px;font-size:43.50px;line-height:52.20px;font-weight:700;transform:scaleX(0.8609);-webkit-text-stroke:0.60px #fff">in</div>
<div class="t" style="left:44.68px;top:258.42px;font-size:43.50px;line-height:52.20px;font-weight:700;transform:scaleX(0.9461);-webkit-text-stroke:0.60px #fff">the</div>
<div class="t" style="left:117.85px;top:258.42px;font-size:43.50px;line-height:52.20px;font-weight:700;transform:scaleX(0.9186);-webkit-text-stroke:0.60px #fff">project,</div>
<div class="t" style="left:273.24px;top:258.42px;font-size:43.50px;line-height:52.20px;font-weight:700;transform:scaleX(0.9486);-webkit-text-stroke:0.60px #fff">%</div>
<div class="t" style="left:50.15px;top:357.17px;font-size:37.00px;line-height:44.40px;font-weight:400;transform:scaleX(0.9473);-webkit-text-stroke:0.70px #fff">Нет,</div>
<div class="t" style="left:125.46px;top:357.17px;font-size:37.00px;line-height:44.40px;font-weight:400;transform:scaleX(0.9339);-webkit-text-stroke:0.70px #fff">состоял(а)</div>
<div class="t" style="left:305.01px;top:357.17px;font-size:37.00px;line-height:44.40px;font-weight:400;transform:scaleX(0.9434);-webkit-text-stroke:0.70px #fff">на</div>
<div class="t" style="left:353.40px;top:357.17px;font-size:37.00px;line-height:44.40px;font-weight:400;transform:scaleX(0.9529);-webkit-text-stroke:0.70px #fff">учете</div>
<div class="t" style="left:453.01px;top:357.17px;font-size:37.00px;line-height:44.40px;font-weight:400;transform:scaleX(0.9430);-webkit-text-stroke:0.70px #fff">в</div>
<div class="t" style="left:481.24px;top:357.17px;font-size:37.00px;line-height:44.40px;font-weight:400;transform:scaleX(0.9569);-webkit-text-stroke:0.70px #fff">службе</div>
<div class="t" style="left:611.20px;top:357.17px;font-size:37.00px;line-height:44.40px;font-weight:400;transform:scaleX(0.9740);-webkit-text-stroke:0.70px #fff">занятости</div>
<div class="t" style="left:787.93px;top:357.17px;font-size:37.00px;line-height:44.40px;font-weight:400;transform:scaleX(0.9826);-webkit-text-stroke:0.70px #fff">(статус</div>
<div class="t" style="left:48.54px;top:397.67px;font-size:37.00px;line-height:44.40px;font-weight:400;transform:scaleX(1.0296);-webkit-text-stroke:0.70px #fff">безработного)</div>
<div class="t" style="left:50.16px;top:440.17px;font-size:37.00px;line-height:44.40px;font-weight:400;transform:scaleX(0.9447);-webkit-text-stroke:0.70px #fff">No,</div>
<div class="t" style="left:114.18px;top:440.17px;font-size:37.00px;line-height:44.40px;font-weight:400;transform:scaleX(0.8791);-webkit-text-stroke:0.70px #fff">was</div>
<div class="t" style="left:181.02px;top:440.17px;font-size:37.00px;line-height:44.40px;font-weight:400;transform:scaleX(0.9891);-webkit-text-stroke:0.70px #fff">registered</div>
<div class="t" style="left:354.04px;top:440.17px;font-size:37.00px;line-height:44.40px;font-weight:400;transform:scaleX(0.8546);-webkit-text-stroke:0.70px #fff">as</div>
<div class="t" style="left:396.29px;top:440.17px;font-size:37.00px;line-height:44.40px;font-weight:400;transform:scaleX(0.9033);-webkit-text-stroke:0.70px #fff">an</div>
<div class="t" style="left:442.69px;top:440.17px;font-size:37.00px;line-height:44.40px;font-weight:400;transform:scaleX(1.0020);-webkit-text-stroke:0.70px #fff">unemployment</div>
<div class="t" style="left:696.08px;top:440.17px;font-size:37.00px;line-height:44.40px;font-weight:400;transform:scaleX(1.0065);-webkit-text-stroke:0.70px #fff">(unemployed</div>
<div class="t" style="left:49.51px;top:482.07px;font-size:37.00px;line-height:44.40px;font-weight:400;transform:scaleX(1.0123);-webkit-text-stroke:0.70px #fff">status)</div>
<div class="t" style="left:50.14px;top:522.67px;font-size:37.00px;line-height:44.40px;font-weight:400;transform:scaleX(0.9504);-webkit-text-stroke:0.70px #fff">Нет,</div>
<div class="t" style="left:125.64px;top:522.67px;font-size:37.00px;line-height:44.40px;font-weight:400;transform:scaleX(0.9775);-webkit-text-stroke:0.70px #fff">не</div>
<div class="t" style="left:175.78px;top:522.67px;font-size:37.00px;line-height:44.40px;font-weight:400;transform:scaleX(0.9551);-webkit-text-stroke:0.70px #fff">работал(а)</div>
<div class="t" style="left:48.90px;top:564.57px;font-size:37.00px;line-height:44.40px;font-weight:400;transform:scaleX(0.8921);-webkit-text-stroke:0.70px #fff">Да,</div>
<div class="t" style="left:107.96px;top:564.57px;font-size:37.00px;line-height:44.40px;font-weight:400;transform:scaleX(0.9653);-webkit-text-stroke:0.70px #fff">было</div>
<div class="t" style="left:205.09px;top:564.57px;font-size:37.00px;line-height:44.40px;font-weight:400;transform:scaleX(1.0090);-webkit-text-stroke:0.70px #fff">основное</div>
<div class="t" style="left:378.29px;top:564.57px;font-size:37.00px;line-height:44.40px;font-weight:400;transform:scaleX(0.9540);-webkit-text-stroke:0.70px #fff">место</div>
<div class="t" style="left:485.01px;top:564.57px;font-size:37.00px;line-height:44.40px;font-weight:400;transform:scaleX(0.9946);-webkit-text-stroke:0.70px #fff">работы</div>
<div class="t" style="left:48.25px;top:606.67px;font-size:37.00px;line-height:44.40px;font-weight:400;transform:scaleX(0.8629);-webkit-text-stroke:0.70px #fff">Yes,</div>
<div class="t" style="left:118.49px;top:606.67px;font-size:37.00px;line-height:44.40px;font-weight:400;transform:scaleX(0.7873);-webkit-text-stroke:0.70px #fff">I</div>
<div class="t" style="left:134.05px;top:606.67px;font-size:37.00px;line-height:44.40px;font-weight:400;transform:scaleX(0.9480);-webkit-text-stroke:0.70px #fff">had</div>
<div class="t" style="left:202.38px;top:606.67px;font-size:37.00px;line-height:44.40px;font-weight:400;transform:scaleX(0.8691);-webkit-text-stroke:0.70px #fff">a</div>
<div class="t" style="left:229.18px;top:606.67px;font-size:37.00px;line-height:44.40px;font-weight:400;transform:scaleX(0.9350);-webkit-text-stroke:0.70px #fff">main</div>
<div class="t" style="left:313.90px;top:606.67px;font-size:37.00px;line-height:44.40px;font-weight:400;transform:scaleX(1.0543);-webkit-text-stroke:0.70px #fff">job</div>
<div class="t" style="left:48.90px;top:648.17px;font-size:37.00px;line-height:44.40px;font-weight:400;transform:scaleX(0.9084);-webkit-text-stroke:0.70px #fff">Да,</div>
<div class="t" style="left:109.02px;top:648.17px;font-size:37.00px;line-height:44.40px;font-weight:400;transform:scaleX(0.9901);-webkit-text-stroke:0.70px #fff">помимо</div>
<div class="t" style="left:250.58px;top:648.17px;font-size:37.00px;line-height:44.40px;font-weight:400;transform:scaleX(1.0119);-webkit-text-stroke:0.70px #fff">основной</div>
<div class="t" style="left:424.35px;top:648.17px;font-size:37.00px;line-height:44.40px;font-weight:400;transform:scaleX(0.9717);-webkit-text-stroke:0.70px #fff">работы</div>
<div class="t" style="left:556.56px;top:648.17px;font-size:37.00px;line-height:44.40px;font-weight:400;transform:scaleX(0.9202);-webkit-text-stroke:0.70px #fff">имел(а)</div>
<div class="t" style="left:687.65px;top:648.17px;font-size:37.00px;line-height:44.40px;font-weight:400;transform:scaleX(1.0250);-webkit-text-stroke:0.70px #fff">подработку</div>
<div class="t" style="left:48.28px;top:689.97px;font-size:37.00px;line-height:44.40px;font-weight:400;transform:scaleX(0.8615);-webkit-text-stroke:0.70px #fff">Yes,</div>
<div class="t" style="left:118.43px;top:689.97px;font-size:37.00px;line-height:44.40px;font-weight:400;transform:scaleX(0.8180);-webkit-text-stroke:0.70px #fff">I</div>
<div class="t" style="left:134.08px;top:689.97px;font-size:37.00px;line-height:44.40px;font-weight:400;transform:scaleX(0.9475);-webkit-text-stroke:0.70px #fff">had</div>
<div class="t" style="left:202.41px;top:689.97px;font-size:37.00px;line-height:44.40px;font-weight:400;transform:scaleX(0.8666);-webkit-text-stroke:0.70px #fff">a</div>
<div class="t" style="left:229.07px;top:689.97px;font-size:37.00px;line-height:44.40px;font-weight:400;transform:scaleX(1.0046);-webkit-text-stroke:0.70px #fff">part-time</div>
<div class="t" style="left:386.06px;top:689.97px;font-size:37.00px;line-height:44.40px;font-weight:400;transform:scaleX(0.9789);-webkit-text-stroke:0.70px #fff">job</div>
<div class="t" style="left:444.55px;top:689.97px;font-size:37.00px;line-height:44.40px;font-weight:400;transform:scaleX(0.9153);-webkit-text-stroke:0.70px #fff">in</div>
<div class="t" style="left:480.27px;top:689.97px;font-size:37.00px;line-height:44.40px;font-weight:400;transform:scaleX(1.0123);-webkit-text-stroke:0.70px #fff">addition</div>
<div class="t" style="left:621.88px;top:689.97px;font-size:37.00px;line-height:44.40px;font-weight:400;transform:scaleX(0.9304);-webkit-text-stroke:0.70px #fff">to</div>
<div class="t" style="left:660.20px;top:689.97px;font-size:37.00px;line-height:44.40px;font-weight:400;transform:scaleX(0.9388);-webkit-text-stroke:0.70px #fff">my</div>
<div class="t" style="left:716.19px;top:689.97px;font-size:37.00px;line-height:44.40px;font-weight:400;transform:scaleX(0.9433);-webkit-text-stroke:0.70px #fff">main</div>
<div class="t" style="left:801.66px;top:689.97px;font-size:37.00px;line-height:44.40px;font-weight:400;transform:scaleX(1.0844);-webkit-text-stroke:0.70px #fff">job</div>
<div class="t" style="left:48.32px;top:731.67px;font-size:37.00px;line-height:44.40px;font-weight:400;transform:scaleX(0.9606);-webkit-text-stroke:0.70px #fff">Ухаживал(а)</div>
<div class="t" style="left:262.38px;top:731.67px;font-size:37.00px;line-height:44.40px;font-weight:400;transform:scaleX(0.8286);-webkit-text-stroke:0.70px #fff">за</div>
<div class="t" style="left:301.29px;top:731.67px;font-size:37.00px;line-height:44.40px;font-weight:400;transform:scaleX(0.9962);-webkit-text-stroke:0.70px #fff">больным</div>
<div class="t" style="left:465.14px;top:731.67px;font-size:37.00px;line-height:44.40px;font-weight:400;transform:scaleX(1.0224);-webkit-text-stroke:0.70px #fff">ребенком</div>
<div class="t" style="left:57.03px;top:772.67px;font-size:37.00px;line-height:44.40px;font-weight:400;transform:scaleX(0.9477);-webkit-text-stroke:0.70px #fff">Cared</div>
<div class="t" style="left:162.28px;top:772.67px;font-size:37.00px;line-height:44.40px;font-weight:400;transform:scaleX(0.9494);-webkit-text-stroke:0.70px #fff">for</div>
<div class="t" style="left:213.16px;top:772.67px;font-size:37.00px;line-height:44.40px;font-weight:400;transform:scaleX(0.8191);-webkit-text-stroke:0.70px #fff">a</div>
<div class="t" style="left:238.47px;top:772.67px;font-size:37.00px;line-height:44.40px;font-weight:400;transform:scaleX(0.9090);-webkit-text-stroke:0.70px #fff">sick</div>
<div class="t" style="left:305.66px;top:772.67px;font-size:37.00px;line-height:44.40px;font-weight:400;transform:scaleX(1.0134);-webkit-text-stroke:0.70px #fff">child</div>
<div class="t" style="left:250.07px;top:925.46px;font-size:44.20px;line-height:53.04px;font-weight:700;transform:scaleX(0.9917);-webkit-text-stroke:0.60px #fff">4,52</div>
<div class="t" style="left:594.21px;top:925.46px;font-size:44.20px;line-height:53.04px;font-weight:700;transform:scaleX(1.0147);-webkit-text-stroke:0.60px #fff">43,87</div>
<div class="t" style="left:7.25px;top:1128.06px;font-size:44.20px;line-height:53.04px;font-weight:700;transform:scaleX(0.9735);-webkit-text-stroke:0.60px #fff">14,84</div>
<div class="t" style="left:830.78px;top:1180.96px;font-size:44.20px;line-height:53.04px;font-weight:700;transform:scaleX(0.9989);-webkit-text-stroke:0.60px #fff">33,55</div>
<div class="t" style="left:16.37px;top:1500.26px;font-size:44.20px;line-height:53.04px;font-weight:700;transform:scaleX(1.0029);-webkit-text-stroke:0.60px #fff">3,23</div>
<div style="position:absolute;left:377.7px;top:530px;width:1.9px;height:35.4px;background:#24190d"></div>
<div class="t" style="left:405.71px;top:522.67px;font-size:37.00px;line-height:44.40px;font-weight:400;transform:scaleX(0.8912);-webkit-text-stroke:0.70px #fff">No,</div>
<div class="t" style="left:466.54px;top:522.67px;font-size:37.00px;line-height:44.40px;font-weight:400;transform:scaleX(0.8504);-webkit-text-stroke:0.70px #fff">I</div>
<div class="t" style="left:484.04px;top:522.67px;font-size:37.00px;line-height:44.40px;font-weight:400;transform:scaleX(0.9502);-webkit-text-stroke:0.70px #fff">didn’t</div>
<div class="t" style="left:577.95px;top:522.67px;font-size:37.00px;line-height:44.40px;font-weight:400;transform:scaleX(1.0676);-webkit-text-stroke:0.70px #fff">work</div>
</body></html>
